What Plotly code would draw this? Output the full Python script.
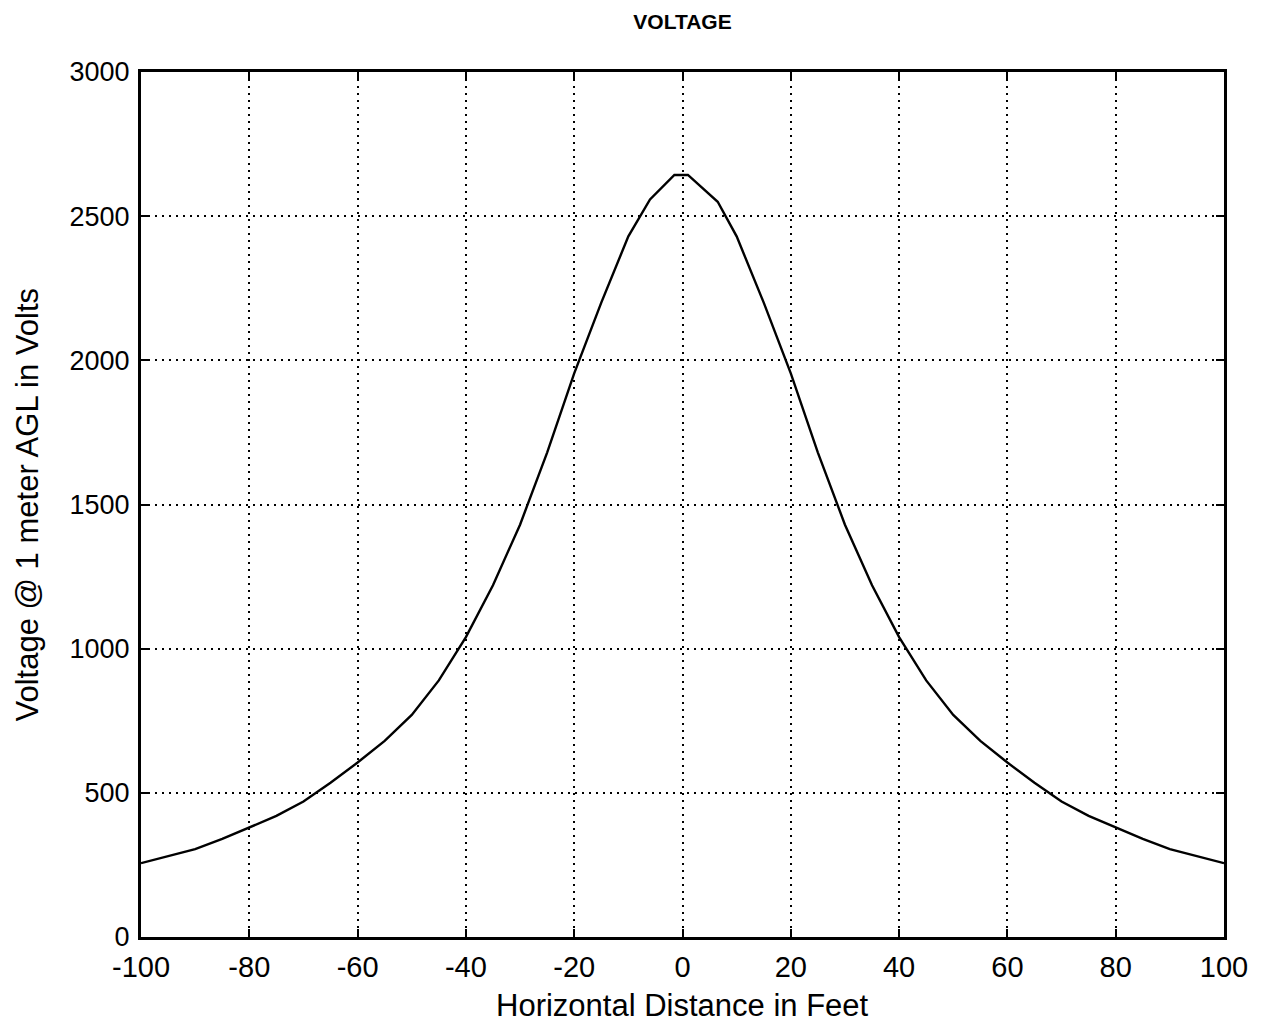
import plotly.graph_objects as go

# Horizontal distance (ft) and voltage (V)
distance_ft = [-100, -95, -90, -85, -80, -75, -70, -65, -60, -55, -50, -45, -40, -35, -30,
               -25, -20, -15, -10, -6, -1.5, 1, 6.5, 10, 15, 20, 25, 30, 35, 40, 45, 50,
               55, 60, 65, 70, 75, 80, 85, 90, 95, 100]
voltage_v = [256, 280, 305, 340, 380, 420, 470, 535, 605, 680, 770, 890, 1040, 1220, 1430,
             1680, 1955, 2200, 2430, 2558, 2643, 2643, 2550, 2430, 2200, 1955, 1680, 1430,
             1220, 1040, 890, 770, 680, 605, 535, 470, 420, 380, 340, 305, 280, 256]

x_ticks = [-100, -80, -60, -40, -20, 0, 20, 40, 60, 80, 100]
y_ticks = [0, 500, 1000, 1500, 2000, 2500, 3000]

FONT = "Liberation Sans, Arial, Helvetica, sans-serif"

fig = go.Figure()
fig.add_trace(go.Scatter(x=distance_ft, y=voltage_v, mode="lines",
                         line=dict(color="black", width=2.4), showlegend=False))

axis_common = dict(
    showline=True, linecolor="black", linewidth=3, mirror="ticks",
    ticks="inside", ticklen=8, tickwidth=1.5, tickcolor="black",
    showgrid=True, gridcolor="black", gridwidth=2, griddash="2px,5px",
    zeroline=False, automargin=False,
)

W, H = 1268, 1027
L, R, T, B = 141, 44, 72, 90
fig.update_layout(
    width=W, height=H,
    margin=dict(l=L, r=R, t=T, b=B, autoexpand=False),
    paper_bgcolor="white", plot_bgcolor="white",
    title=dict(text="<b>VOLTAGE</b>", x=(L + (W - R)) / 2 / W, xanchor="center",
               y=1 - 22 / H, yanchor="middle",
               font=dict(family=FONT, size=21, color="black")),
    xaxis=dict(range=[-100, 100], tickvals=x_ticks, ticktext=[str(v) for v in x_ticks],
               ticklabelstandoff=2,
               tickfont=dict(family=FONT, size=29, color="black"),
               **axis_common),
    yaxis=dict(range=[0, 3000], tickvals=y_ticks, ticktext=[str(v) for v in y_ticks],
               ticklabelstandoff=3,
               tickfont=dict(family=FONT, size=27, color="black"),
               **axis_common),
    annotations=[
        dict(text="Horizontal Distance in Feet", xref="paper", yref="paper",
             x=0.5, y=0, yshift=-68, xanchor="center", yanchor="middle",
             showarrow=False, font=dict(family=FONT, size=31, color="black")),
        dict(text="Voltage @ 1 meter AGL in Volts", xref="paper", yref="paper",
             x=0, y=0.5, xshift=-114, xanchor="center", yanchor="middle", textangle=-90,
             showarrow=False, font=dict(family=FONT, size=31, color="black")),
    ],
)

# Remove the browser's default page margin so the figure fills the window exactly
fig.write_html("out.html", config={"displayModeBar": False},
               post_script="document.body.style.margin='0';")
